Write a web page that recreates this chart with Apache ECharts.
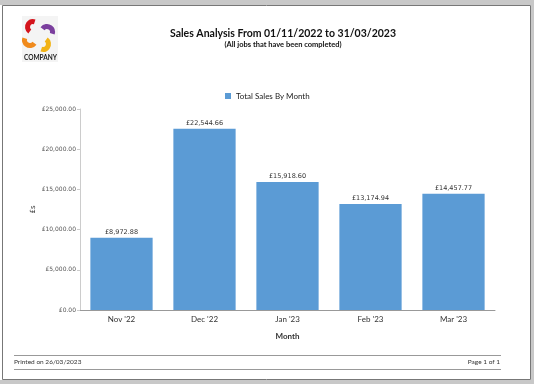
<!DOCTYPE html>
<html><head><meta charset="utf-8">
<script src="https://cdn.jsdelivr.net/npm/echarts@6/dist/echarts.min.js"></script>
<style>html,body{margin:0;padding:0;background:#fff}#c{width:534px;height:384px}</style>
</head><body><div id="c"></div>
<script>
const categories = ["Nov '22", "Dec '22", "Jan '23", "Feb '23", "Mar '23"];
const salesValues = [8972.88, 22544.66, 15918.60, 13174.94, 14457.77];
const seriesName = "Total Sales By Month";
const titleText = "Sales Analysis From 01/11/2022 to 31/03/2023";
const subtitleText = "(All jobs that have been completed)";

const fmt = v => "£" + v.toLocaleString("en-GB", {minimumFractionDigits: 2, maximumFractionDigits: 2});
const chart = echarts.init(document.getElementById('c'), null, {renderer: 'canvas'});

function petal(cx, cy, r0, r, a0, a1, color) {
  return {type: 'sector', shape: {cx, cy, r0, r, startAngle: a0, endAngle: a1}, style: {fill: color}, z: 5};
}

chart.setOption({
  animation: false,
  backgroundColor: '#ffffff',
  title: [
    {text: titleText, left: 278, top: 23, textAlign: 'center',
     textStyle: {fontFamily: 'Lato', fontSize: 10.5, fontWeight: 'bold', color: '#111'}},
    {text: subtitleText, left: 278, top: 36, textAlign: 'center',
     textStyle: {fontFamily: 'Lato', fontSize: 7.5, fontWeight: 'bold', color: '#111'}}
  ],
  legend: {
    top: 87, left: 220, itemWidth: 6, itemHeight: 6, itemGap: 3,
    icon: 'rect',
    textStyle: {fontFamily: 'Lato', fontSize: 8, color: '#222'},
    data: [seriesName]
  },
  grid: {left: 80, right: 39, top: 109, bottom: 74, containLabel: false},
  xAxis: {
    type: 'category', data: categories,
    name: 'Month', nameLocation: 'middle', nameGap: 22,
    nameTextStyle: {fontFamily: 'Lato', fontSize: 8, fontWeight: 'bold', color: '#333'},
    axisLine: {lineStyle: {color: '#999'}},
    axisTick: {show: false},
    axisLabel: {fontFamily: 'Lato', fontSize: 8, color: '#333', margin: 5}
  },
  yAxis: {
    type: 'value', min: 0, max: 25000, interval: 5000,
    name: '£s', nameLocation: 'middle', nameGap: 43, nameMoveOverlap: false,
    nameTextStyle: {fontFamily: 'DejaVu Sans', fontSize: 7, color: '#333'},
    axisLine: {show: true, lineStyle: {color: '#ccc'}},
    axisTick: {show: true, length: 3, lineStyle: {color: '#ccc'}},
    splitLine: {show: false},
    axisLabel: {fontFamily: 'DejaVu Sans', fontSize: 6, color: '#555', margin: 4, formatter: v => fmt(v)}
  },
  series: [{
    name: seriesName, type: 'bar', data: salesValues, barWidth: '75%',
    itemStyle: {color: '#5B9BD5'},
    label: {show: true, position: 'top', distance: 2, fontFamily: 'DejaVu Sans', fontSize: 6.5, color: '#333',
            formatter: p => fmt(p.value)}
  }],
  graphic: [
    {type: 'rect', shape: {x: 0, y: 0, width: 534, height: 5}, style: {fill: '#c8c8c8'}, z: 0},
    {type: 'rect', shape: {x: 531, y: 0, width: 3, height: 384}, style: {fill: '#c8c8c8'}, z: 0},
    {type: 'rect', shape: {x: 0, y: 380, width: 534, height: 4}, style: {fill: '#c8c8c8'}, z: 0},
    {type: 'rect', shape: {x: 2.5, y: 5.5, width: 528, height: 374}, style: {fill: 'none', stroke: '#777', lineWidth: 1}, z: 1},
    {type: 'line', shape: {x1: 14, y1: 355.5, x2: 501, y2: 355.5}, style: {stroke: '#999', lineWidth: 1}},
    {type: 'line', shape: {x1: 14, y1: 369.5, x2: 501, y2: 369.5}, style: {stroke: '#999', lineWidth: 1}},
    {type: 'text', left: 14, top: 358, style: {text: 'Printed on 26/03/2023', fontFamily: 'Lato', fontSize: 6.5, fill: '#333'}},
    {type: 'text', right: 34, top: 358, style: {text: 'Page 1 of 1', fontFamily: 'Lato', fontSize: 6.5, fill: '#333'}},
    {type: 'rect', shape: {x: 22, y: 16, width: 36, height: 46}, style: {fill: '#f4f4f4'}, z: 2},
    petal(33, 27, 3, 8, Math.PI*0.7, Math.PI*1.6, '#d4141c'),
    petal(47, 32, 3, 8, Math.PI*1.2, Math.PI*2.1, '#7b3f9e'),
    petal(43, 44, 3, 8, Math.PI*1.7, Math.PI*2.6, '#f2b315'),
    petal(30, 40, 3, 8, Math.PI*0.2, Math.PI*1.1, '#f08a1c'),
    {type: 'text', left: 24, top: 54, z: 6, style: {text: 'COMPANY', fontFamily: 'Lato', fontSize: 6.5, fontWeight: 'bold', fill: '#222'}}
  ]
});
</script></body></html>
